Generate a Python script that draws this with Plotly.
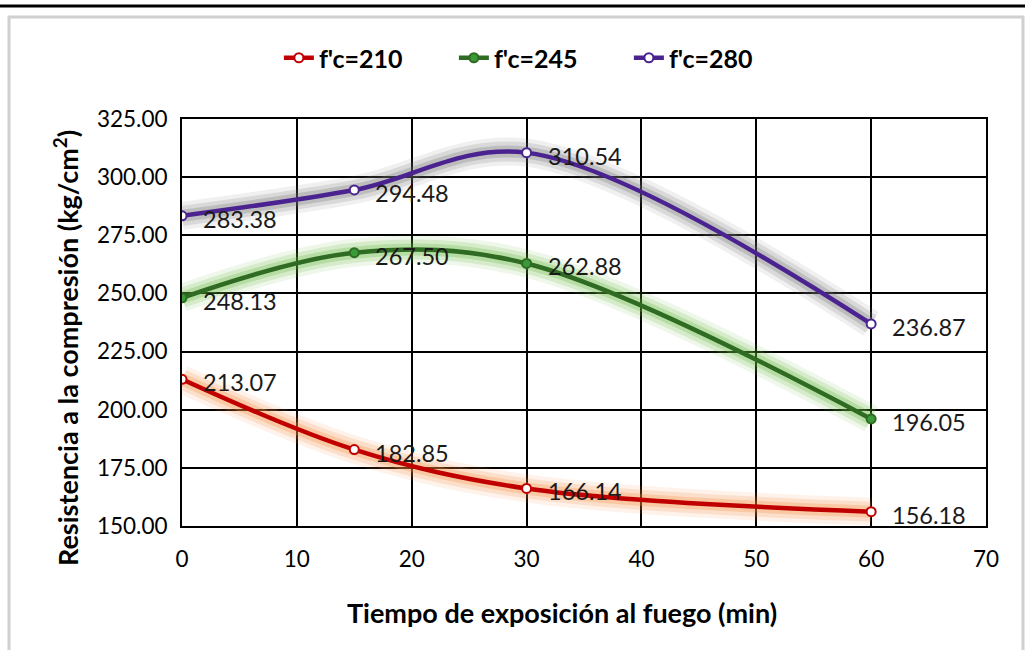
import plotly.graph_objects as go

# Exposure time (min) and compressive strength results per mix design
tiempo = [0, 15, 30, 60]
fc_210 = [213.07, 182.85, 166.14, 156.18]
fc_245 = [248.13, 267.50, 262.88, 196.05]
fc_280 = [283.38, 294.48, 310.54, 236.87]

series = [
    ("f'c=210", fc_210, "#C00000", "white", "rgba(245,140,60,{a})"),
    ("f'c=245", fc_245, "#2F6B22", "#3A9A3A", "rgba(100,185,60,{a})"),
    ("f'c=280", fc_280, "#4B2390", "white", "rgba(115,115,115,{a})"),
]

x_ticks = [0, 10, 20, 30, 40, 50, 60, 70]
y_ticks = [150, 175, 200, 225, 250, 275, 300, 325]

x_title = "Tiempo de exposición al fuego (min)"
y_title = "Resistencia a la compresión (kg/cm<sup>2</sup>)"

FONT = "Lato"
W, H = 1025, 650
ML, MR, MT, MB = 182, 39, 119, 124
PW, PH = W - ML - MR, H - MT - MB


def px(xp):
    return (xp - ML) / PW


def py(yp):
    return (H - MB - yp) / PH


fig = go.Figure()

# Soft glow under each line
for name, vals, col, fill, glow in series:
    for width, alpha in [(28, 0.11), (20, 0.18), (12, 0.27)]:
        fig.add_trace(go.Scatter(
            x=tiempo, y=vals, mode="lines",
            line=dict(color=glow.format(a=alpha), width=width,
                      shape="spline", smoothing=1.0),
            showlegend=False, hoverinfo="skip",
        ))

# Main lines with markers
for name, vals, col, fill, glow in series:
    fig.add_trace(go.Scatter(
        x=tiempo, y=vals, mode="lines+markers", name=name,
        line=dict(color=col, width=4.5, shape="spline", smoothing=1.0),
        marker=dict(size=9, color=fill, line=dict(color=col, width=2)),
    ))

# Value labels to the right of each point
annotations = []
for name, vals, col, fill, glow in series:
    for xv, yv in zip(tiempo, vals):
        annotations.append(dict(
            x=xv, y=yv, xref="x", yref="y", text=f"{yv:.2f}",
            showarrow=False, xanchor="left", yanchor="middle",
            xshift=19, yshift=-3,
            font=dict(family=FONT, size=23.5, color="#1a1a1a"),
        ))

# Axis titles
title_font = dict(family=FONT, size=27, color="black", weight="bold")
annotations.append(dict(
    x=px(562), y=py(612), xref="paper", yref="paper", text=x_title,
    showarrow=False, xanchor="center", yanchor="middle", font=title_font,
))
annotations.append(dict(
    x=px(66), y=py(348), xref="paper", yref="paper", text=y_title,
    showarrow=False, xanchor="center", yanchor="middle", textangle=-90,
    font=title_font,
))

shapes = [
    # dark rule across the top
    dict(type="line", xref="paper", yref="paper",
         x0=px(0), x1=px(W), y0=py(6), y1=py(6),
         line=dict(color="black", width=3)),
    # light frame around the chart
    dict(type="rect", xref="paper", yref="paper",
         x0=px(9), x1=px(1023), y0=py(17), y1=py(680),
         line=dict(color="#D0D0D0", width=3), fillcolor="rgba(0,0,0,0)"),
]

fig.update_layout(
    width=W, height=H,
    margin=dict(l=ML, r=MR, t=MT, b=MB),
    paper_bgcolor="white", plot_bgcolor="white",
    font=dict(family=FONT, size=22, color="black"),
    showlegend=True,
    legend=dict(
        orientation="h", x=0.447, xanchor="center", y=py(58), yanchor="middle",
        font=dict(family=FONT, size=25, color="black", weight="bold"),
        entrywidth=130, entrywidthmode="pixels",
        itemclick=False, bgcolor="rgba(0,0,0,0)",
    ),
    annotations=annotations,
    shapes=shapes,
)

fig.update_xaxes(
    range=[0, 70], tickvals=x_ticks, ticktext=[str(v) for v in x_ticks],
    showgrid=True, gridcolor="black", gridwidth=2,
    showline=True, linecolor="black", linewidth=2, mirror=True,
    zeroline=False, ticks="", ticklabelstandoff=12,
    tickfont=dict(family=FONT, size=22.5, color="black"),
)
fig.update_yaxes(
    range=[150, 325], tickvals=y_ticks, ticktext=[f"{v:.2f}" for v in y_ticks],
    showgrid=True, gridcolor="black", gridwidth=2,
    showline=True, linecolor="black", linewidth=2, mirror=True,
    zeroline=False, ticks="", ticklabelstandoff=8,
    tickfont=dict(family=FONT, size=22.5, color="black"),
)

fig.write_html("out.html")
